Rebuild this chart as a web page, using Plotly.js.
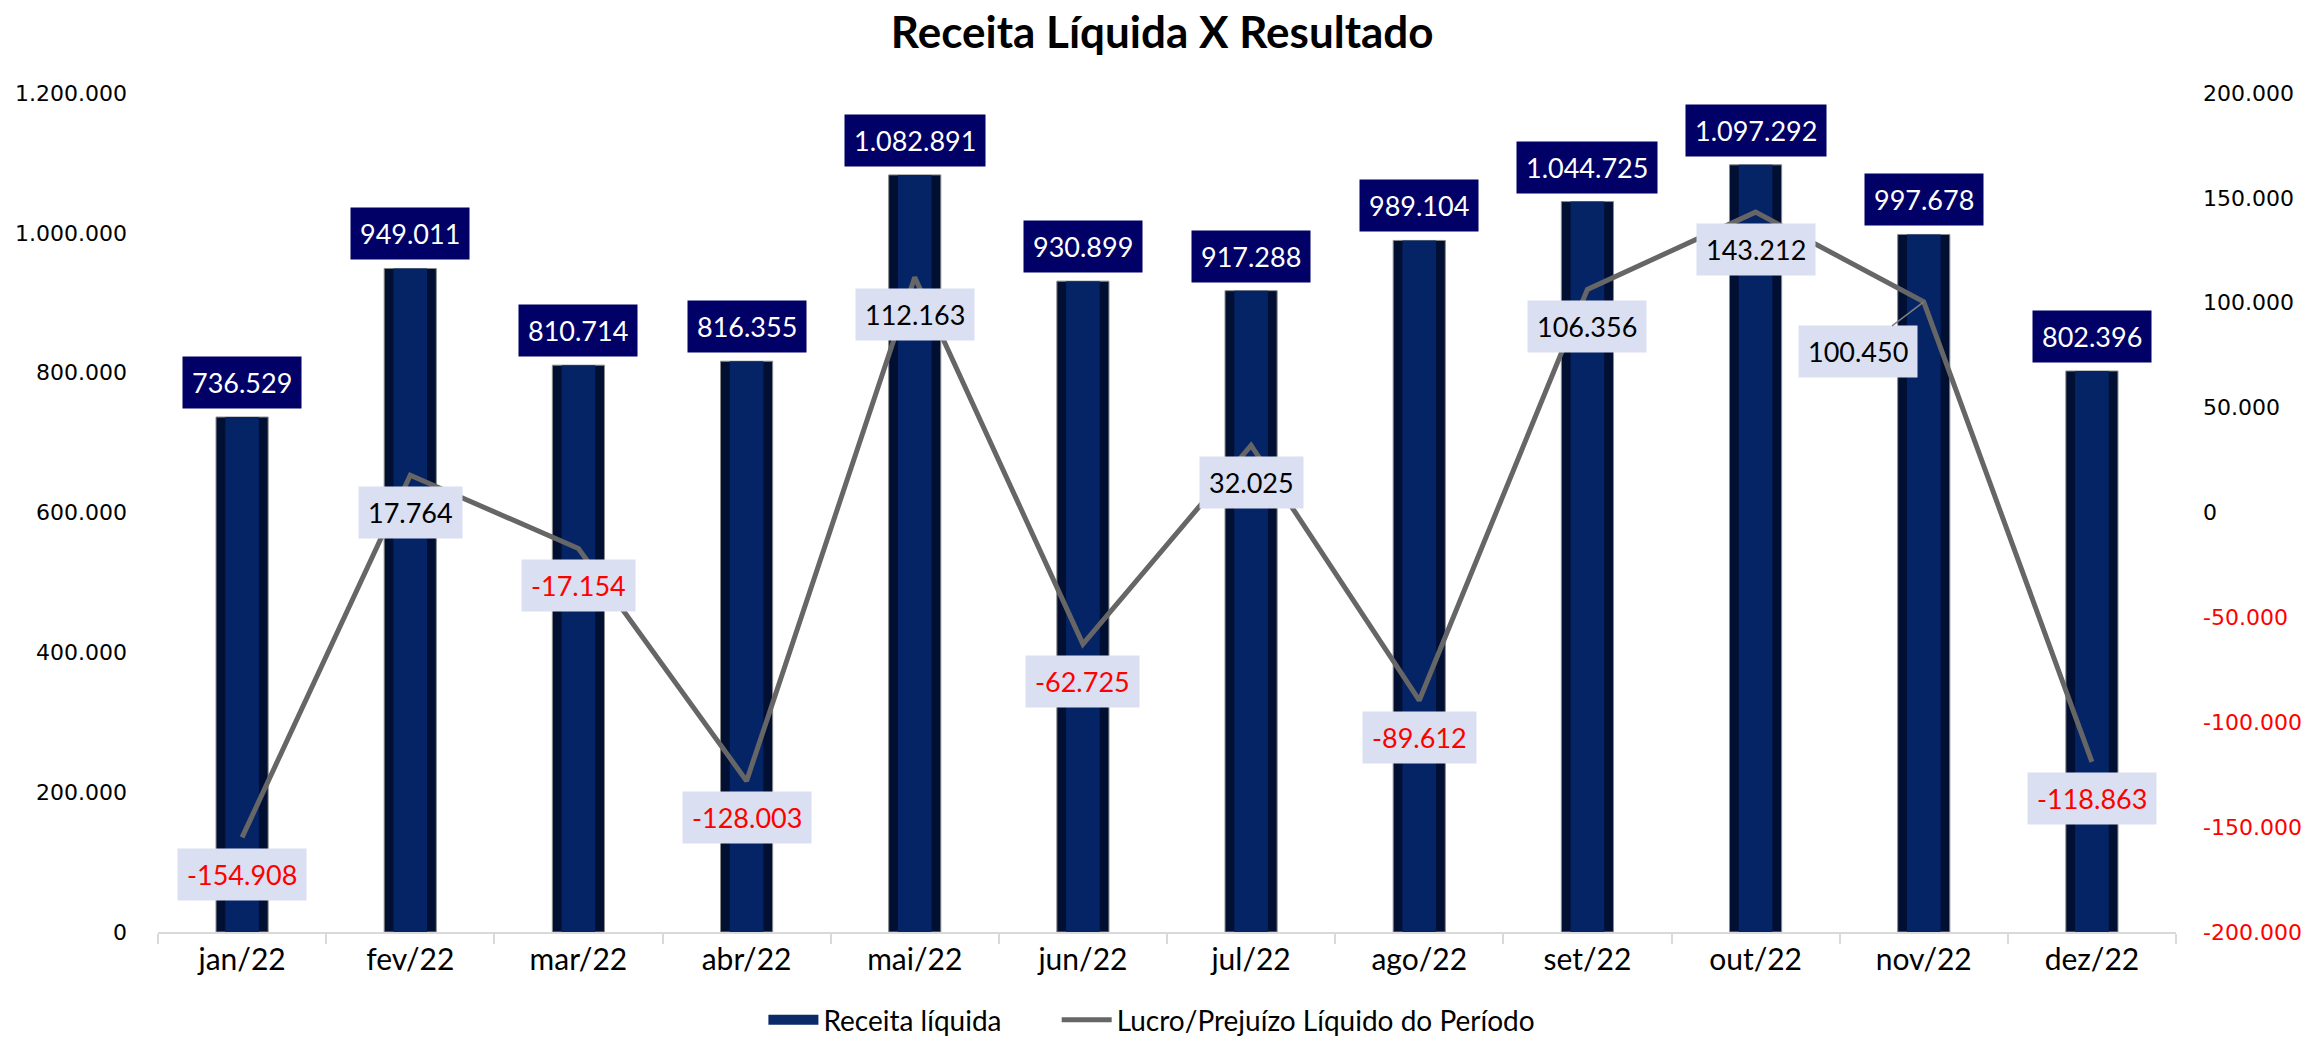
<!DOCTYPE html>
<html>
<head>
<meta charset="utf-8">
<script src="https://cdn.plot.ly/plotly-3.0.1.min.js"></script>
<style>
  html, body { margin: 0; padding: 0; background: #fff; }
  #grafico { width: 2306px; height: 1042px; }
</style>
</head>
<body>
<div id="grafico"></div>
<script>
// dados
const meses = ['jan/22', 'fev/22', 'mar/22', 'abr/22', 'mai/22', 'jun/22',
               'jul/22', 'ago/22', 'set/22', 'out/22', 'nov/22', 'dez/22'];
const receita = [736529, 949011, 810714, 816355, 1082891, 930899,
                 917288, 989104, 1044725, 1097292, 997678, 802396];
const resultado = [-154908, 17764, -17154, -128003, 112163, -62725,
                   32025, -89612, 106356, 143212, 100450, -118863];
const ticksEsq = [0, 200000, 400000, 600000, 800000, 1000000, 1200000];
const ticksDir = [-200000, -150000, -100000, -50000, 0, 50000, 100000, 150000, 200000];

const fonteNum = 'DejaVu Sans, Verdana, sans-serif';
const fonteTxt = 'Lato, Open Sans, sans-serif';

// 1234567 -> "1.234.567"
function fmt(n) {
    const s = Math.abs(n).toString().replace(/\B(?=(\d{3})+(?!\d))/g, '.');
    return (n < 0 ? '-' : '') + s;
}

const barraFundo = {
    x: meses, y: receita, type: 'bar', width: 0.31,
    marker: { color: '#010f33', line: { color: '#8a8a8a', width: 1 } },
    showlegend: false, hoverinfo: 'skip'
};
const barraFrente = {
    x: meses, y: receita, type: 'bar', width: 0.2,
    showlegend: false,
    marker: { color: '#052466' }
};
// só para a legenda (retângulo largo como no original); eixo y3 escondido, fica fora da área
const legBarra = {
    x: meses, y: receita, type: 'scatter', mode: 'lines', yaxis: 'y3',
    name: 'Receita líquida' + '\u00a0'.repeat(7),
    line: { color: '#0a2a6a', width: 18 }
};
const linha = {
    x: meses, y: resultado, type: 'scatter', mode: 'lines', yaxis: 'y2',
    name: 'Lucro/Prejuízo Líquido do Período',
    line: { color: '#666666', width: 5 }
};

const anotacoes = [];
receita.forEach((v, i) => {
    anotacoes.push({
        x: meses[i], y: v, xref: 'x', yref: 'y',
        text: fmt(v), showarrow: false, yanchor: 'bottom', yshift: 8,
        bgcolor: '#000066', borderpad: 9,
        font: { family: fonteTxt, size: 27, color: '#ffffff' }
    });
});
resultado.forEach((v, i) => {
    const a = {
        x: meses[i], y: v, xref: 'x', yref: 'y2',
        text: fmt(v), bgcolor: '#dae0f1', borderpad: 9,
        font: { family: fonteTxt, size: 27, color: v < 0 ? '#ff0000' : '#000000' }
    };
    if (meses[i] === 'nov/22') {
        // rótulo deslocado com linha de chamada
        Object.assign(a, { showarrow: true, arrowhead: 0, arrowwidth: 1.5,
                           arrowcolor: '#7f7f7f', ax: -66, ay: 50 });
    } else {
        Object.assign(a, { showarrow: false, yanchor: 'middle', yshift: -37 });
    }
    anotacoes.push(a);
});

const layout = {
    width: 2306, height: 1042,
    margin: { l: 158, r: 130, t: 93, b: 110 },
    paper_bgcolor: '#ffffff', plot_bgcolor: '#ffffff',
    barmode: 'overlay',
    title: {
        text: 'Receita Líquida X Resultado',
        font: { family: fonteTxt, size: 44, weight: 'bold', color: '#000000' },
        xref: 'container', x: 0.504, yref: 'container', y: 0.969, yanchor: 'middle'
    },
    xaxis: {
        type: 'category', showgrid: false, zeroline: false,
        showline: true, linecolor: '#d9d9d9', linewidth: 2,
        ticks: 'outside', tickson: 'boundaries', ticklen: 10, tickcolor: '#d9d9d9', tickwidth: 2,
        tickfont: { family: fonteTxt, size: 30, color: '#000000' }
    },
    yaxis: {
        range: [0, 1200000], tickmode: 'array', tickvals: ticksEsq, ticktext: ticksEsq.map(fmt),
        showgrid: false, zeroline: false, showline: false, ticklabelstandoff: 30,
        tickfont: { family: fonteNum, size: 22, color: '#000000' }
    },
    yaxis2: {
        overlaying: 'y', side: 'right', range: [-200000, 200000],
        tickmode: 'array', tickvals: ticksDir,
        ticktext: ticksDir.map(v => v < 0 ? '<span style="color:#ff0000">' + fmt(v) + '</span>' : fmt(v)),
        showgrid: false, zeroline: false, showline: false, ticklabelstandoff: 26,
        tickfont: { family: fonteNum, size: 22, color: '#000000' }
    },
    yaxis3: {
        overlaying: 'y', range: [3000000, 4000000], visible: false
    },
    legend: {
        orientation: 'h', x: 0.3, xanchor: 'left',
        yref: 'container', y: 0.021, yanchor: 'middle', itemwidth: 50,
        traceorder: 'normal',
        font: { family: fonteTxt, size: 28, color: '#000000' }
    },
    annotations: anotacoes
};

Plotly.newPlot('grafico', [barraFundo, barraFrente, legBarra, linha], layout, { displayModeBar: false, staticPlot: true });
</script>
</body>
</html>
